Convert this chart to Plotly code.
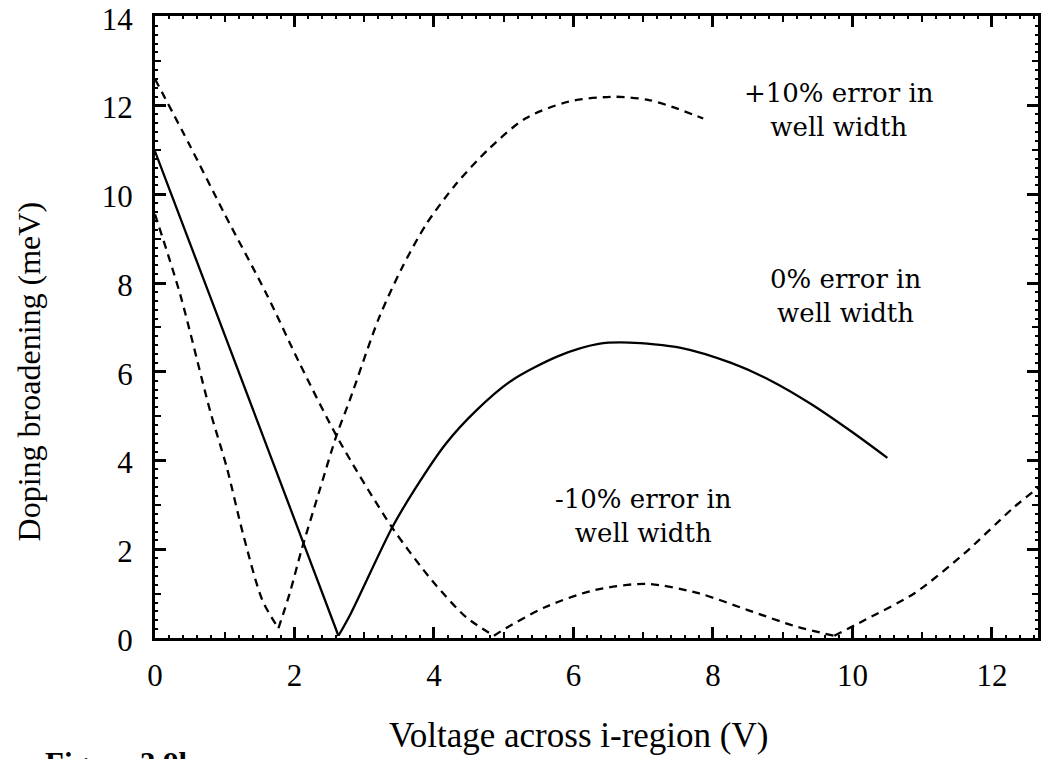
import plotly.graph_objects as go

# ---- data ----
v_zero = [0, 0.79, 2.15, 2.63, 2.81, 3.4, 3.74, 4.17, 4.6, 5.11, 5.79, 6.36, 6.8, 7.54, 8.26, 8.83, 9.4, 9.97, 10.5]
d_zero = [10.97, 7.7, 2.05, 0.05, 0.56, 2.49, 3.39, 4.38, 5.12, 5.8, 6.36, 6.63, 6.66, 6.54, 6.2, 5.8, 5.28, 4.67, 4.06]
zero_breaks = [3]

v_plus = [0, 0.36, 0.79, 1.03, 1.26, 1.54, 1.77, 1.93, 2.1, 2.36, 2.61, 2.79, 3.21, 3.54, 3.89, 4.31, 4.79, 5.31, 5.93, 6.6, 7.07, 7.4, 7.86]
d_plus = [9.55, 7.75, 5.12, 3.84, 2.36, 0.85, 0.22, 1.0, 1.98, 3.33, 4.6, 5.35, 7.21, 8.34, 9.33, 10.22, 11.03, 11.71, 12.09, 12.2, 12.13, 11.98, 11.71]
plus_breaks = [6]

v_minus = [0, 0.5, 1.0, 1.6, 2.07, 2.64, 3.4, 3.97, 4.46, 4.86, 5.03, 5.6, 6.3, 7.05, 7.79, 8.5, 9.21, 9.74, 10.17, 10.89, 11.6, 12.31, 12.7]
d_minus = [12.6, 11.1, 9.55, 7.75, 6.2, 4.45, 2.49, 1.3, 0.47, 0.05, 0.22, 0.7, 1.08, 1.22, 1.01, 0.63, 0.25, 0.05, 0.4, 1.01, 1.9, 2.94, 3.43]
minus_breaks = [9, 17]

x_major = [0, 2, 4, 6, 8, 10, 12]
y_major = [0, 2, 4, 6, 8, 10, 12, 14]
x_mid = [1, 3, 5, 7, 9, 11]
y_mid = [1, 3, 5, 7, 9, 11, 13]

# curve labels: (text, x, y) in data units (centre of the two-line block)
labels = [
    ("+10% error in<br>well width", 9.80, 11.90),
    ("0% error in<br>well width", 9.90, 7.72),
    ("-10% error in<br>well width", 7.00, 2.76),
]

FONT = "Liberation Serif"
LABEL_FONT = "DejaVu Serif"
W, H = 1041, 759
L, R, T, B = 155, 0, 16, 121

fig = go.Figure()
dash = "8px,6px"


def add_curve(xs, ys, breaks, dashed):
    idx = [0] + breaks + [len(xs) - 1]
    for a, b in zip(idx[:-1], idx[1:]):
        fig.add_trace(go.Scatter(
            x=xs[a:b + 1], y=ys[a:b + 1], mode="lines",
            line=dict(color="black", width=2.3, dash=dash if dashed else "solid",
                      shape="spline", smoothing=0.8)))


add_curve(v_zero, d_zero, zero_breaks, False)
add_curve(v_plus, d_plus, plus_breaks, True)
add_curve(v_minus, d_minus, minus_breaks, True)

for text, x, y in labels:
    fig.add_annotation(x=x, y=y, xref="x", yref="y", text=text, showarrow=False,
                       xanchor="center", yanchor="middle", align="center",
                       font=dict(family=LABEL_FONT, size=26, color="black"))

common = dict(ticks="inside", tickcolor="black", showgrid=False, zeroline=False)
fig.update_layout(
    width=W, height=H, margin=dict(l=L, r=R, t=T, b=B),
    paper_bgcolor="white", plot_bgcolor="white", showlegend=False,
    font=dict(family=FONT, size=30, color="black"),
    xaxis=dict(range=[0, 12.66], tickvals=x_major, ticklen=11, tickwidth=2.5,
               showline=True, linewidth=3, linecolor="black", mirror="allticks",
               ticklabelstandoff=8, tickfont=dict(size=31),
               minor=dict(dtick=0.2, ticklen=3, tickwidth=1.5, ticks="inside", tickcolor="black"),
               **common),
    yaxis=dict(range=[0, 14.02], tickvals=y_major, ticklen=11, tickwidth=2.5,
               showline=True, linewidth=3, linecolor="black", mirror="allticks",
               ticklabelstandoff=13, ticklabelshift=2, tickfont=dict(size=31),
               minor=dict(dtick=0.2, ticklen=3, tickwidth=1.5, ticks="inside", tickcolor="black"),
               **common),
    xaxis2=dict(overlaying="x", matches="x", anchor="y", side="bottom", tickvals=x_mid,
                ticklen=6, tickwidth=2, showticklabels=False, mirror="allticks", showline=False,
                **common),
    yaxis2=dict(overlaying="y", matches="y", anchor="x", side="left", tickvals=y_mid,
                ticklen=6, tickwidth=2, showticklabels=False, mirror="allticks", showline=False,
                **common),
)
# invisible trace to activate overlay axes
fig.add_trace(go.Scatter(x=[None], y=[None], xaxis="x2", yaxis="y2", showlegend=False))

fig.add_annotation(text="Voltage across i-region (V)", xref="paper", yref="paper",
                   x=(580 - L) / (W - L - R), y=-(735 - (H - B)) / (H - T - B),
                   xanchor="center", yanchor="middle",
                   showarrow=False, font=dict(family=FONT, size=35))
fig.add_annotation(text="Doping broadening (meV)", xref="paper", yref="paper",
                   x=-(L - 29) / (W - L - R), y=(H - B - 372) / (H - T - B), textangle=-90,
                   xanchor="center", yanchor="middle",
                   showarrow=False, font=dict(family=FONT, size=32))
fig.add_annotation(text="<b>Figure 3.9b</b>", xref="paper", yref="paper",
                   x=-(L - 43) / (W - L - R), y=-(744 - (H - B)) / (H - T - B),
                   xanchor="left", yanchor="top", showarrow=False,
                   font=dict(family=FONT, size=31))

fig.write_html("out.html")
